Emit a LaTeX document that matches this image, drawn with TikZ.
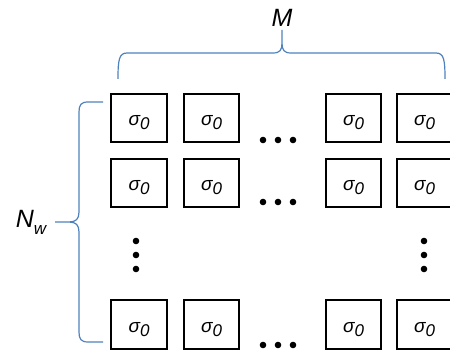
\documentclass[tikz,border=0pt]{standalone}
\usepackage{fontspec}
\setmainfont{Liberation Sans}
\usetikzlibrary{calc}
\definecolor{bracecol}{RGB}{79,129,189}
\tikzset{
  cell/.style={
    draw=black,
    line width=2.3pt,
    minimum width=55.5pt,
    minimum height=48.5pt,
    inner sep=0pt,
    text height=16pt,
    text depth=0pt,
    font=\itshape
  },
  brace/.style={
    draw=bracecol,
    line width=1.2pt
  },
  lbl/.style={
    font=\fontsize{25}{25}\selectfont\itshape,
    inner sep=0pt
  }
}
\newcommand{\sigzero}{{\fontsize{19}{19}\selectfont σ}\raisebox{-4pt}{\fontsize{17}{17}\selectfont 0}}

\begin{document}
\begin{tikzpicture}[x=1pt,y=1pt]

    % 大きさ
    \useasboundingbox (0,0) rectangle (450,352);

    % パラメータ
    \def\dotr{3.3}

    % 箱
    \foreach \c/\x in {1/139,2/211.5,3/353.5,4/424.5} {
        \foreach \r/\y in {1/234,2/169,3/27.5} {
            \node[cell] (b\r\c) at (\x,\y) {\sigzero};
        }
    }

    % 横の点
    \foreach \y in {212,150,7} {
        \foreach \x in {263,278,293} {
            \fill (\x,\y) circle (\dotr);
        }
    }

    % 縦の点
    \foreach \x in {136,424} {
        \foreach \y in {111,97,83} {
            \fill (\x,\y) circle (\dotr);
        }
    }

    % ラベル
    \node[lbl,anchor=base] (lblM) at (282,325) {M};
    \node[lbl,anchor=base] (lblN) at (31,124)
        {N\raisebox{-7pt}{\fontsize{17}{17}\selectfont w}};

    % 上の括弧
    \draw[brace] (118,273) .. controls (118,292) and (119,299) .. (127,299)
        -- (273,299) .. controls (280,299) and (282,302) .. (282,309)
        -- (282,322) -- (282,309)
        .. controls (282,302) and (284,299) .. (291,299)
        -- (436,299) .. controls (444,299) and (445,292) .. (445,273);

    % 左の括弧
    \draw[brace] (103,250) -- (88,250) .. controls (81,250) and (79,247) .. (79,240)
        -- (79,140) .. controls (79,133) and (76,130) .. (69,130)
        -- (55,130) -- (69,130)
        .. controls (76,130) and (79,127) .. (79,120)
        -- (79,20) .. controls (79,13) and (81,10) .. (88,10) -- (103,10);

\end{tikzpicture}
\end{document}
